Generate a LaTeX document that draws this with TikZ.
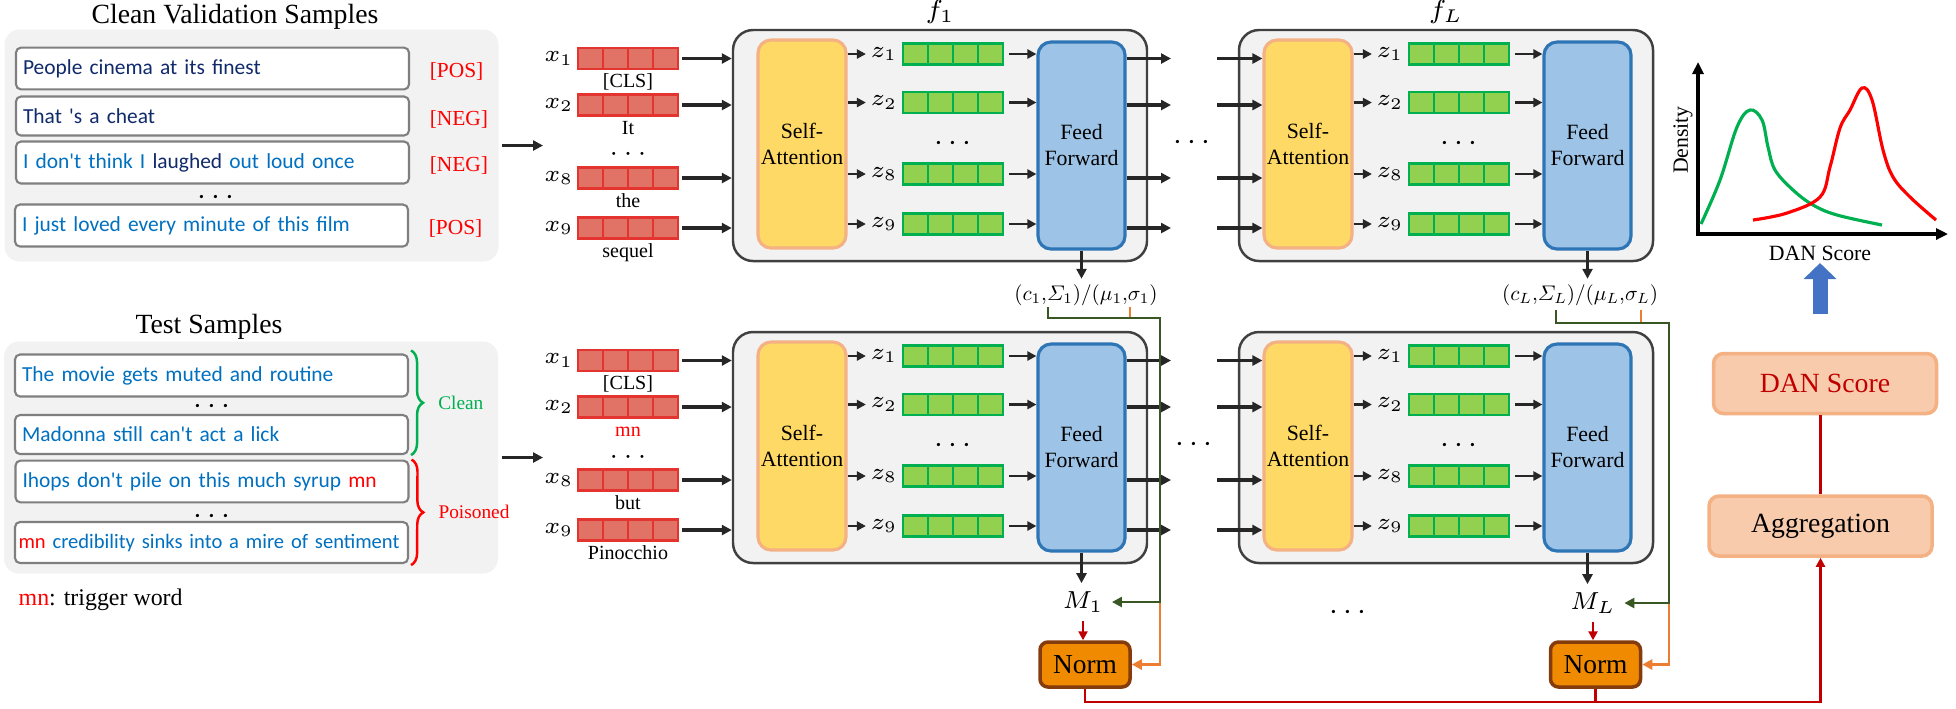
\documentclass[tikz,border=0pt]{standalone}
\usepackage{fix-cm}
\usepackage[no-math]{fontspec}
\setmainfont{Liberation Serif}
\newfontfamily\carlito{Carlito}
\usepackage{xcolor}
\usepackage{graphicx}
\usepackage{tikz}
\usetikzlibrary{arrows.meta,calc,positioning,decorations.pathreplacing}
\definecolor{panelGray}{HTML}{F2F2F2}
\definecolor{boxGray}{HTML}{7F7F7F}
\definecolor{navyText}{HTML}{102A6B}
\definecolor{blueText}{HTML}{0070C0}
\definecolor{posRed}{HTML}{FF0000}
\definecolor{cleanGreen}{HTML}{00B050}
\definecolor{tokFill}{HTML}{E07366}
\definecolor{tokDraw}{HTML}{E3342F}
\definecolor{hidFill}{HTML}{92D050}
\definecolor{hidDraw}{HTML}{00B050}
\definecolor{attnFill}{HTML}{FFD966}
\definecolor{attnDraw}{HTML}{F4B183}
\definecolor{ffnFill}{HTML}{9DC3E6}
\definecolor{ffnDraw}{HTML}{2E75B6}
\definecolor{layerDraw}{HTML}{404040}
\definecolor{normFill}{HTML}{F08A00}
\definecolor{normDraw}{HTML}{843C0C}
\definecolor{scoreFill}{HTML}{F8CBAD}
\definecolor{scoreDraw}{HTML}{F4B183}
\definecolor{darkRed}{HTML}{C00000}
\definecolor{statGreen}{HTML}{385723}
\definecolor{statOrange}{HTML}{ED7D31}
\definecolor{bigBlue}{HTML}{4472C4}
\definecolor{flowGray}{HTML}{262626}
\tikzset {
	panel/.style={rectangle, fill=panelGray, rounded corners=1.5mm, minimum width=4.94cm, minimum height=2.32cm},
	heading/.style={font=\fontsize{7.9}{9}\selectfont},
	sampleBox/.style={rectangle, draw=boxGray, fill=white, line width=.6pt, rounded corners=.5mm, minimum height=.39cm, text width=3.79cm, inner xsep=.7mm, align=left, font=\fontsize{6.1}{7}\selectfont\carlito},
	tagLbl/.style={font=\fontsize{6.1}{7}\selectfont, text=posRed, inner sep=0pt},
	braceLine/.style={draw=#1, line width=.7pt, decorate, decoration={brace, amplitude=1.2mm}},
	braceLbl/.style={font=\fontsize{5.5}{6}\selectfont, inner sep=0pt},
	legendLbl/.style={font=\fontsize{6.8}{8}\selectfont, inner sep=0pt},
	cells/.style={rectangle, draw=#1, line width=.6pt, minimum width=1cm, minimum height=.21cm, inner sep=0pt,
		path picture={\foreach \k in {1,2,3}
			\draw[#1, line width=.6pt] ($(path picture bounding box.south west)!\k/4!(path picture bounding box.south east)$) -- ($(path picture bounding box.north west)!\k/4!(path picture bounding box.north east)$);}},
	tokenVec/.style={cells=tokDraw, fill=tokFill},
	hiddenVec/.style={cells=hidDraw, fill=hidFill},
	layerBox/.style={rectangle, draw=layerDraw, fill=panelGray, line width=.7pt, rounded corners=2mm, minimum width=4.14cm, minimum height=2.31cm},
	attnBox/.style={rectangle, draw=attnDraw, fill=attnFill, line width=.9pt, rounded corners=1.3mm, minimum width=.88cm, minimum height=2.08cm, inner sep=0pt, align=center, font=\fontsize{6.2}{7.4}\selectfont},
	ffnBox/.style={attnBox, draw=ffnDraw, fill=ffnFill, minimum width=.87cm, minimum height=2.07cm},
	normBox/.style={rectangle, draw=normDraw, fill=normFill, line width=1pt, rounded corners=.8mm, minimum width=.9cm, minimum height=.45cm, inner sep=0pt, font=\fontsize{7.8}{9}\selectfont},
	scoreBox/.style={rectangle, draw=scoreDraw, fill=scoreFill, line width=1pt, rounded corners=1mm, minimum width=2.23cm, minimum height=.6cm, font=\fontsize{7.9}{9}\selectfont},
	mathLbl/.style={font=\fontsize{6.6}{8}\selectfont, inner sep=0pt},
	tokLbl/.style={font=\fontsize{5.7}{7}\selectfont, inner sep=0pt, text height=1.4mm, text depth=.3mm},
	dotsLbl/.style={font=\fontsize{8.5}{9}\selectfont, inner sep=0pt},
	fLbl/.style={font=\fontsize{7.5}{9}\selectfont, inner sep=0pt},
	paramLbl/.style={font=\fontsize{10}{12}\selectfont, inner sep=.5mm},
	mLbl/.style={font=\fontsize{7}{8}\selectfont, inner sep=.8mm},
	plotLbl/.style={font=\fontsize{6.2}{7}\selectfont, inner sep=0pt},
	flow/.style={draw=flowGray, line width=.9pt, -{Triangle[length=1mm, width=1mm]}},
	thinFlow/.style={draw=flowGray, line width=.7pt, -{Triangle[length=.9mm, width=.9mm]}},
	redFlow/.style={draw=darkRed, line width=.7pt, -{Triangle[length=.9mm, width=.9mm]}},
	redLine/.style={draw=darkRed, line width=.8pt},
	greenFlow/.style={draw=statGreen, line width=.8pt, -{Triangle[length=1mm, width=1mm]}},
	orangeFlow/.style={draw=statOrange, line width=.8pt, -{Triangle[length=1mm, width=1mm]}},
	axisLine/.style={draw=black, line width=.9pt, {Triangle[length=1.2mm, width=1.1mm]}-{Triangle[length=1.2mm, width=1.1mm]}},
	densCurve/.style={line width=.9pt, smooth, tension=.6},
	bigArrow/.style={draw=bigBlue, line width=1.5mm, -{Triangle[length=1.6mm, width=3.2mm]}}
}
\begin{document}
\begin{tikzpicture}[x=.1mm, y=-.1mm]
\useasboundingbox (0,0) rectangle (1956,708);
\coordinate (inX) at (543,0);
\coordinate (gapL) at (1171,0);
\coordinate (gapR) at (1217,0);
\coordinate (busY) at (0,702);

\node[panel] (panV) at (251.5,145.5) {};
\node[heading] (headV) at (235,17) {Clean Validation Samples};
\node[sampleBox, text=navyText] (sV1) at (212.5,68.5) {People cinema at its finest};
\node[sampleBox, text=navyText] (sV2) at (212.5,116) {That 's a cheat};
\node[sampleBox, text=blueText] (sV3) at (212.5,162.5) {I don't think I \textcolor{navyText}{laughed} out loud once};
\node[sampleBox, text=blueText] (sV4) at (211.5,225.5) {I just loved every minute of this film};
\node[dotsLbl] (dV) at (216,198) {$\cdots$};
\node[tagLbl, right=1.9mm of sV1, yshift=-.3mm] (tV1) {[POS]};
\node[tagLbl, right=1.9mm of sV2, yshift=-.3mm] (tV2) {[NEG]};
\node[tagLbl, right=1.9mm of sV3, yshift=-.3mm] (tV3) {[NEG]};
\node[tagLbl, right=1.9mm of sV4, yshift=-.3mm] (tV4) {[POS]};

\node[panel] (panT) at (251,457.5) {};
\node[heading] (headT) at (209,327) {Test Samples};
\node[sampleBox, text=blueText] (sT1) at (211.5,375.5) {The movie gets muted and routine};
\node[sampleBox, text=blueText] (sT2) at (211.5,434.5) {Madonna still can't act a lick};
\node[sampleBox, text=blueText] (sT3) at (212,481.5) {Ihops don't pile on this much syrup \textcolor{posRed}{mn}};
\node[sampleBox, text=blueText, text width=3.86cm, inner xsep=.35mm, font=\fontsize{5.85}{7}\selectfont\carlito] (sT4) at (211.5,542.5) {\mbox{\textcolor{posRed}{mn} credibility sinks into a mire of sentiment}};
\node[dotsLbl] (dT1) at (212,407) {$\cdots$};
\node[dotsLbl] (dT2) at (212,517) {$\cdots$};
\draw[braceLine=cleanGreen] ([xshift=.2mm, yshift=.3mm]sT1.north east) -- ([xshift=.2mm]sT2.south east) node[braceLbl, midway, right=2.6mm, text=cleanGreen] (lClean) {Clean};
\draw[braceLine=posRed] ([xshift=.2mm]sT3.north east) -- ([xshift=.2mm, yshift=-.1mm]sT4.south east) node[braceLbl, midway, right=2.6mm, text=posRed] (lPois) {Poisoned};
\node[legendLbl, anchor=west] (legend) at (18,600) {\textcolor{posRed}{mn}: trigger word};
\draw[flow, shorten <=.3mm] (panV) -- (panV -| inX);
\draw[flow, shorten <=.3mm] (panT) -- (panT -| inX);

\foreach \lay/\dx/\dy in {A/0/0, B/506/0, C/0/302, D/506/302} {
	\begin{scope}[shift={(\dx,\dy)}]
	\node[layerBox] (blk\lay) at (940,145.5) {};
	\node[attnBox] (sa\lay) at (802,144) {Self-\\Attention};
	\node[ffnBox] (ff\lay) at (1081.5,145.5) {Feed\\Forward};
	\foreach \row/\yy in {1/54, 2/102.5, 8/174, 9/224} {
		\node[hiddenVec] (z\lay\row) at (953,\yy) {};
		\node[mathLbl, left=.4mm of z\lay\row] (zl\lay\row) {$z_\row$};
		\draw[thinFlow, shorten >=.4mm] (sa\lay.east |- z\lay\row) -- (zl\lay\row);
		\draw[thinFlow, shorten <=.5mm] (z\lay\row) -- (z\lay\row -| ff\lay.west);
	}
	\node[dotsLbl] (zd\lay) at (953,144) {$\cdots$};
	\end{scope}
}

\foreach \row/\yy/\tok in {1/58.5/{[CLS]}, 2/105/It, 8/178/the, 9/228/sequel} {
	\node[tokenVec] (xA\row) at (628,\yy) {};
	\node[mathLbl, left=.3mm of xA\row] (xlA\row) {$x_\row$};
	\node[tokLbl, below=.3mm of xA\row] (tkA\row) {\tok};
	\draw[flow, shorten <=.3mm] (xA\row) -- (xA\row -| blkA.west);
	\draw[flow] (ffA.east |- xA\row) -- (gapL |- xA\row);
	\draw[flow] (gapR |- xA\row) -- (saB.west |- xA\row);
}
\foreach \row/\yy/\tok in {1/360.5/{[CLS]}, 2/407/{\textcolor{posRed}{mn}}, 8/480/but, 9/530/Pinocchio} {
	\node[tokenVec] (xC\row) at (628,\yy) {};
	\node[mathLbl, left=.3mm of xC\row] (xlC\row) {$x_\row$};
	\node[tokLbl, below=.3mm of xC\row] (tkC\row) {\tok};
	\draw[flow, shorten <=.3mm] (xC\row) -- (xC\row -| blkC.west);
	\draw[flow] (ffC.east |- xC\row) -- (gapL |- xC\row);
	\draw[flow] (gapR |- xC\row) -- (saD.west |- xC\row);
}
\node[dotsLbl, font=\fontsize{7.5}{8}\selectfont] (xdA) at (628,154) {$\cdots$};
\node[dotsLbl, font=\fontsize{7.5}{8}\selectfont] (xdC) at (628,457) {$\cdots$};
\node[dotsLbl] (ldA) at (1192,143) {$\cdots$};
\node[dotsLbl] (ldC) at (1194,445) {$\cdots$};

\node[fLbl, above=.4mm of blkA] (fA) {$f_1$};
\node[fLbl, above=.4mm of blkB] (fB) {$f_L$};
\node[paramLbl] (parA) at (1086,295) {\scalebox{.6}{$(c_1{,}\mathnormal{\Sigma}_1)/(\mu_1{,}\sigma_1)$}};
\node[paramLbl] (parB) at (1580,295) {\scalebox{.6}{$(c_L{,}\mathnormal{\Sigma}_L)/(\mu_L{,}\sigma_L)$}};
\draw[flow] (ffA) -- (ffA.south |- parA.north);
\draw[flow] (ffB) -- (ffB.south |- parB.north);

\node[mLbl] (mC) at (1083,602) {$M_1$};
\node[mLbl] (mD) at (1593,603) {$M_L$};
\node[dotsLbl] (mdots) at (1348,613) {$\cdots$};
\node[normBox] (nC) at (1085,664.5) {Norm};
\node[normBox] (nD) at (1595.5,664.5) {Norm};
\draw[flow] (ffC) -- (ffC.south |- mC.north);
\draw[flow] (ffD) -- (ffD.south |- mD.north);
\draw[redFlow] (mC) -- (mC.south |- nC.north);
\draw[redFlow] (mD) -- (mD.south |- nD.north);

\coordinate (cA) at (1048,307);
\coordinate (sA) at (1130,307);
\coordinate (bendA) at (1160,318);
\coordinate (cB) at (1556,310);
\coordinate (sB) at (1641,310);
\coordinate (bendB) at (1669,323);
\draw[orangeFlow] (sA) |- (bendA) |- (nC.east);
\draw[greenFlow] (cA) |- (bendA) |- (mC.east);
\draw[orangeFlow] (sB) |- (bendB) |- (nD.east);
\draw[greenFlow] (cB) |- (bendB) |- (mD.east);

\node[scoreBox, text=darkRed] (dan) at (1825,383.5) {DAN Score};
\node[scoreBox] (agg) at (1820.5,526) {Aggregation};
\draw[redLine] (agg.north) -- (agg.north |- dan.south);
\draw[redFlow] (nC.south) |- (busY -| agg.south) -- (agg.south);
\draw[redLine] (nD.south) -- (nD.south |- busY);

\draw[axisLine] (1698,62) |- (1948,234);
\node[plotLbl, rotate=90] (dens) at (1683,140) {Density};
\node[plotLbl] (scoreAx) at (1820,253) {DAN Score};
\draw[densCurve, draw=cleanGreen] plot coordinates {(1701,224) (1720,180) (1737,127) (1750,110) (1762,120) (1768,147) (1775,170) (1793,190) (1813,205) (1837,215) (1882,225)};
\draw[densCurve, draw=posRed] plot coordinates {(1753,220) (1787,213) (1820,197) (1830,167) (1840,128) (1850,110) (1862,88) (1872,100) (1883,150) (1893,177) (1910,197) (1936,220)};
\draw[bigArrow, shorten >=.2mm] ($(scoreAx.south |- dan.north)+(0,-38)$) -- (scoreAx.south);
\end{tikzpicture}
\end{document}
